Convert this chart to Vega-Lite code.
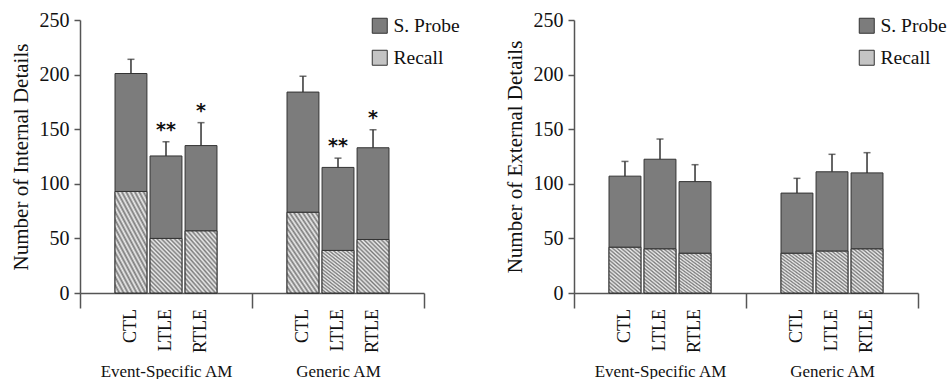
{
  "$schema": "https://vega.github.io/schema/vega-lite/v6.json",
  "padding": {"left": 10, "top": 10, "right": 0, "bottom": 0},
  "background": "white",
  "datasets": {
    "internal": [
      {"group": "Event-Specific AM", "cond": "CTL", "recall": 93, "total": 201, "upper": 214, "sig": ""},
      {"group": "Event-Specific AM", "cond": "LTLE", "recall": 50, "total": 125.5, "upper": 138.5, "sig": "**"},
      {"group": "Event-Specific AM", "cond": "RTLE", "recall": 57, "total": 135, "upper": 156, "sig": "*"},
      {"group": "Generic AM", "cond": "CTL", "recall": 74, "total": 184, "upper": 198.5, "sig": ""},
      {"group": "Generic AM", "cond": "LTLE", "recall": 39, "total": 115, "upper": 123.5, "sig": "**"},
      {"group": "Generic AM", "cond": "RTLE", "recall": 49, "total": 133, "upper": 149.5, "sig": "*"}
    ],
    "external": [
      {"group": "Event-Specific AM", "cond": "CTL", "recall": 42, "total": 107, "upper": 120.5, "sig": ""},
      {"group": "Event-Specific AM", "cond": "LTLE", "recall": 40.5, "total": 122.5, "upper": 141, "sig": ""},
      {"group": "Event-Specific AM", "cond": "RTLE", "recall": 36.5, "total": 102, "upper": 117.5, "sig": ""},
      {"group": "Generic AM", "cond": "CTL", "recall": 36.5, "total": 91.5, "upper": 105, "sig": ""},
      {"group": "Generic AM", "cond": "LTLE", "recall": 38.5, "total": 111, "upper": 127, "sig": ""},
      {"group": "Generic AM", "cond": "RTLE", "recall": 40.5, "total": 110, "upper": 128.5, "sig": ""}
    ]
  },
  "spacing": 43,
  "resolve": {"legend": {"color": "independent"}, "axis": {"y": "independent"}},
  "hconcat": [
    {
      "width": 344,
      "height": 273,
      "data": {"name": "internal"},
      "encoding": {
        "x": {"field": "group", "type": "nominal", "sort": ["Event-Specific AM", "Generic AM"], "scale": {"paddingInner": 0, "paddingOuter": 0}, "axis": {"title": null}},
        "xOffset": {"field": "cond", "type": "nominal", "sort": ["CTL", "LTLE", "RTLE"], "scale": {"paddingInner": 0.09, "paddingOuter": 1}}
      },
      "layer": [
        {
          "mark": {"type": "bar", "stroke": "#333333", "strokeWidth": 1},
          "encoding": {
            "y": {"field": "recall", "type": "quantitative", "stack": null, "scale": {"domain": [0, 250], "nice": false, "zero": true}, "title": "Number of Internal Details"},
            "color": {"datum": "Recall", "type": "nominal", "scale": {"domain": ["S. Probe", "Recall"], "range": ["#7c7c7c", "#c4c4c4"]},
            "legend": {"orient": "none", "legendX": 290, "legendY": -4, "labelFont": "Liberation Serif", "labelFontSize": 19.5, "symbolSize": 225, "rowPadding": 11, "labelOffset": 4}}
          }
        },
        {
          "mark": {"type": "bar", "stroke": "#333333", "strokeWidth": 1, "fill": {"gradient": "linear", "x1": 0, "y1": 1, "x2": 0.7, "y2": -0.19, "stops": [
              {"offset": 0, "color": "#7a7a7a"}, {"offset": 0.025, "color": "#eeeeee"},
              {"offset": 0.05, "color": "#7a7a7a"}, {"offset": 0.075, "color": "#eeeeee"},
              {"offset": 0.1, "color": "#7a7a7a"}, {"offset": 0.125, "color": "#eeeeee"},
              {"offset": 0.15, "color": "#7a7a7a"}, {"offset": 0.175, "color": "#eeeeee"},
              {"offset": 0.2, "color": "#7a7a7a"}, {"offset": 0.225, "color": "#eeeeee"},
              {"offset": 0.25, "color": "#7a7a7a"}, {"offset": 0.275, "color": "#eeeeee"},
              {"offset": 0.3, "color": "#7a7a7a"}, {"offset": 0.325, "color": "#eeeeee"},
              {"offset": 0.35, "color": "#7a7a7a"}, {"offset": 0.375, "color": "#eeeeee"},
              {"offset": 0.4, "color": "#7a7a7a"}, {"offset": 0.425, "color": "#eeeeee"},
              {"offset": 0.45, "color": "#7a7a7a"}, {"offset": 0.475, "color": "#eeeeee"},
              {"offset": 0.5, "color": "#7a7a7a"}, {"offset": 0.525, "color": "#eeeeee"},
              {"offset": 0.55, "color": "#7a7a7a"}, {"offset": 0.575, "color": "#eeeeee"},
              {"offset": 0.6, "color": "#7a7a7a"}, {"offset": 0.625, "color": "#eeeeee"},
              {"offset": 0.65, "color": "#7a7a7a"}, {"offset": 0.675, "color": "#eeeeee"},
              {"offset": 0.7, "color": "#7a7a7a"}, {"offset": 0.725, "color": "#eeeeee"},
              {"offset": 0.75, "color": "#7a7a7a"}, {"offset": 0.775, "color": "#eeeeee"},
              {"offset": 0.8, "color": "#7a7a7a"}, {"offset": 0.825, "color": "#eeeeee"},
              {"offset": 0.85, "color": "#7a7a7a"}, {"offset": 0.875, "color": "#eeeeee"},
              {"offset": 0.9, "color": "#7a7a7a"}, {"offset": 0.925, "color": "#eeeeee"},
              {"offset": 0.95, "color": "#7a7a7a"}, {"offset": 0.975, "color": "#eeeeee"},
              {"offset": 1, "color": "#7a7a7a"}
            ]}},
          "encoding": {
            "y": {"field": "recall", "type": "quantitative", "stack": null}
          }
        },
        {
          "mark": {"type": "bar", "stroke": "#333333", "strokeWidth": 1},
          "encoding": {
            "y": {"field": "total", "type": "quantitative"},
            "y2": {"field": "recall"},
            "color": {"datum": "S. Probe", "type": "nominal"}
          }
        },
        {
          "mark": {"type": "rule", "color": "#333333", "strokeWidth": 1.5},
          "encoding": {"y": {"field": "total", "type": "quantitative"}, "y2": {"field": "upper"}}
        },
        {
          "mark": {"type": "tick", "color": "#333333", "thickness": 1.5, "size": 7},
          "encoding": {"y": {"field": "upper", "type": "quantitative"}}
        },
        {
          "mark": {"type": "text", "font": "DejaVu Sans", "fontWeight": "bold", "fontSize": 19, "baseline": "alphabetic", "dy": -6, "color": "#111111"},
          "encoding": {"y": {"field": "upper", "type": "quantitative"}, "text": {"field": "sig"}}
        },
        {
          "mark": {"type": "text", "angle": 270, "align": "right", "baseline": "middle", "dx": -16, "font": "Liberation Serif", "fontSize": 18, "color": "#111111"},
          "encoding": {"y": {"datum": 0, "type": "quantitative"}, "text": {"field": "cond"}}
        }
      ]
    },
    {
      "width": 344,
      "height": 273,
      "data": {"name": "external"},
      "encoding": {
        "x": {"field": "group", "type": "nominal", "sort": ["Event-Specific AM", "Generic AM"], "scale": {"paddingInner": 0, "paddingOuter": 0}, "axis": {"title": null}},
        "xOffset": {"field": "cond", "type": "nominal", "sort": ["CTL", "LTLE", "RTLE"], "scale": {"paddingInner": 0.09, "paddingOuter": 1}}
      },
      "layer": [
        {
          "mark": {"type": "bar", "stroke": "#333333", "strokeWidth": 1},
          "encoding": {
            "y": {"field": "recall", "type": "quantitative", "stack": null, "scale": {"domain": [0, 250], "nice": false, "zero": true}, "title": "Number of External Details"},
            "color": {"datum": "Recall", "type": "nominal", "legend": {"orient": "none", "legendX": 283, "legendY": -4, "labelFont": "Liberation Serif", "labelFontSize": 19.5, "symbolSize": 225, "rowPadding": 11, "labelOffset": 4}}
          }
        },
        {
          "mark": {"type": "bar", "stroke": "#333333", "strokeWidth": 1, "fill": {"gradient": "linear", "x1": 0, "y1": 1, "x2": 0.7, "y2": -0.19, "stops": [
              {"offset": 0, "color": "#7a7a7a"}, {"offset": 0.025, "color": "#eeeeee"},
              {"offset": 0.05, "color": "#7a7a7a"}, {"offset": 0.075, "color": "#eeeeee"},
              {"offset": 0.1, "color": "#7a7a7a"}, {"offset": 0.125, "color": "#eeeeee"},
              {"offset": 0.15, "color": "#7a7a7a"}, {"offset": 0.175, "color": "#eeeeee"},
              {"offset": 0.2, "color": "#7a7a7a"}, {"offset": 0.225, "color": "#eeeeee"},
              {"offset": 0.25, "color": "#7a7a7a"}, {"offset": 0.275, "color": "#eeeeee"},
              {"offset": 0.3, "color": "#7a7a7a"}, {"offset": 0.325, "color": "#eeeeee"},
              {"offset": 0.35, "color": "#7a7a7a"}, {"offset": 0.375, "color": "#eeeeee"},
              {"offset": 0.4, "color": "#7a7a7a"}, {"offset": 0.425, "color": "#eeeeee"},
              {"offset": 0.45, "color": "#7a7a7a"}, {"offset": 0.475, "color": "#eeeeee"},
              {"offset": 0.5, "color": "#7a7a7a"}, {"offset": 0.525, "color": "#eeeeee"},
              {"offset": 0.55, "color": "#7a7a7a"}, {"offset": 0.575, "color": "#eeeeee"},
              {"offset": 0.6, "color": "#7a7a7a"}, {"offset": 0.625, "color": "#eeeeee"},
              {"offset": 0.65, "color": "#7a7a7a"}, {"offset": 0.675, "color": "#eeeeee"},
              {"offset": 0.7, "color": "#7a7a7a"}, {"offset": 0.725, "color": "#eeeeee"},
              {"offset": 0.75, "color": "#7a7a7a"}, {"offset": 0.775, "color": "#eeeeee"},
              {"offset": 0.8, "color": "#7a7a7a"}, {"offset": 0.825, "color": "#eeeeee"},
              {"offset": 0.85, "color": "#7a7a7a"}, {"offset": 0.875, "color": "#eeeeee"},
              {"offset": 0.9, "color": "#7a7a7a"}, {"offset": 0.925, "color": "#eeeeee"},
              {"offset": 0.95, "color": "#7a7a7a"}, {"offset": 0.975, "color": "#eeeeee"},
              {"offset": 1, "color": "#7a7a7a"}
            ]}},
          "encoding": {
            "y": {"field": "recall", "type": "quantitative", "stack": null}
          }
        },
        {
          "mark": {"type": "bar", "stroke": "#333333", "strokeWidth": 1},
          "encoding": {
            "y": {"field": "total", "type": "quantitative"},
            "y2": {"field": "recall"},
            "color": {"datum": "S. Probe", "type": "nominal"}
          }
        },
        {
          "mark": {"type": "rule", "color": "#333333", "strokeWidth": 1.5},
          "encoding": {"y": {"field": "total", "type": "quantitative"}, "y2": {"field": "upper"}}
        },
        {
          "mark": {"type": "tick", "color": "#333333", "thickness": 1.5, "size": 7},
          "encoding": {"y": {"field": "upper", "type": "quantitative"}}
        },
        {
          "mark": {"type": "text", "angle": 270, "align": "right", "baseline": "middle", "dx": -16, "font": "Liberation Serif", "fontSize": 18, "color": "#111111"},
          "encoding": {"y": {"datum": 0, "type": "quantitative"}, "text": {"field": "cond"}}
        }
      ]
    }
  ],
  "config": {
    "view": {"stroke": null},
    "font": "Liberation Serif",
    "axisX": {"domainColor": "#555555", "domainWidth": 1.5, "tickColor": "#555555", "tickWidth": 1.5, "tickSize": 15, "tickBand": "extent", "labelPadding": 55, "labelFont": "Liberation Serif", "labelFontSize": 17, "labelColor": "#111111", "labelAngle": 0, "labelBaseline": "top"},
    "axisY": {"values": [0, 50, 100, 150, 200, 250], "grid": false, "domainColor": "#555555", "domainWidth": 1.5, "tickColor": "#555555", "tickWidth": 1.5, "tickSize": 6, "labelPadding": 5, "labelFont": "Liberation Serif", "labelFontSize": 20, "labelColor": "#111111", "titleFont": "Liberation Serif", "titleFontSize": 21, "titleFontWeight": "normal", "titleColor": "#111111", "titlePadding": 8},
    "legend": {"title": null, "symbolType": "square", "symbolSize": 225, "symbolStrokeColor": "#333333", "symbolStrokeWidth": 1, "labelFont": "Liberation Serif", "labelFontSize": 19.5, "labelColor": "#111111", "rowPadding": 11, "labelOffset": 4}
  }
}
